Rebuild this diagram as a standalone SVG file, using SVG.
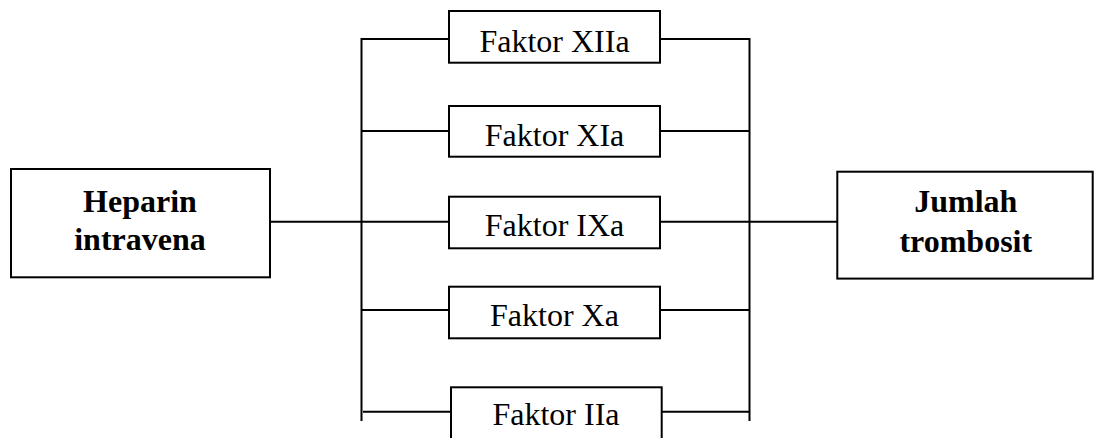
<svg xmlns="http://www.w3.org/2000/svg" width="1095" height="438" viewBox="0 0 1095 438">
<style>
.box{fill:#fff;stroke:#000;stroke-width:2}
.ln{stroke:#000;stroke-width:2;fill:none}
.t{font-family:"Liberation Serif","Times New Roman",serif;font-size:32px;fill:#000;text-anchor:middle}
.b{font-weight:bold}
</style>
<rect width="1095" height="438" fill="#fff"/>
<g id="connectors">
<line class="ln" x1="270" y1="221.7" x2="837" y2="221.7"/>
<line class="ln" x1="361.5" y1="38" x2="361.5" y2="421"/>
<line class="ln" x1="749.5" y1="38" x2="749.5" y2="421"/>
<line class="ln" x1="361.5" y1="39" x2="449" y2="39"/>
<line class="ln" x1="660" y1="39" x2="749.5" y2="39"/>
<line class="ln" x1="361.5" y1="131" x2="449" y2="131"/>
<line class="ln" x1="660" y1="131" x2="749.5" y2="131"/>
<line class="ln" x1="361.5" y1="310" x2="449" y2="310"/>
<line class="ln" x1="660" y1="310" x2="749.5" y2="310"/>
<line class="ln" x1="363" y1="411.7" x2="451" y2="411.7"/>
<line class="ln" x1="661.7" y1="411.7" x2="749.5" y2="411.7"/>
</g>
<g id="heparin">
<rect class="box" x="11" y="169" width="259" height="108.3"/>
<text class="t b" x="140" y="211.7">Heparin</text>
<text class="t b" x="140" y="250">intravena</text>
</g>
<g id="jumlah">
<rect class="box" x="837.3" y="171.7" width="255.4" height="106.9"/>
<text class="t b" x="965.8" y="211.7">Jumlah</text>
<text class="t b" x="965.8" y="251.7">trombosit</text>
</g>
<g id="f12">
<rect class="box" x="449" y="11" width="211" height="51.7"/>
<text class="t" x="554.5" y="51.7">Faktor XIIa</text>
</g>
<g id="f11">
<rect class="box" x="449" y="106" width="211" height="50.7"/>
<text class="t" x="554.5" y="145.7">Faktor XIa</text>
</g>
<g id="f9">
<rect class="box" x="449" y="196.7" width="211" height="51.6"/>
<text class="t" x="554.5" y="236">Faktor IXa</text>
</g>
<g id="f10">
<rect class="box" x="449" y="286.7" width="211" height="51.6"/>
<text class="t" x="554.5" y="326">Faktor Xa</text>
</g>
<g id="f2">
<rect class="box" x="451" y="387.3" width="210.7" height="60"/>
<text class="t" x="556" y="425">Faktor IIa</text>
</g>
</svg>
